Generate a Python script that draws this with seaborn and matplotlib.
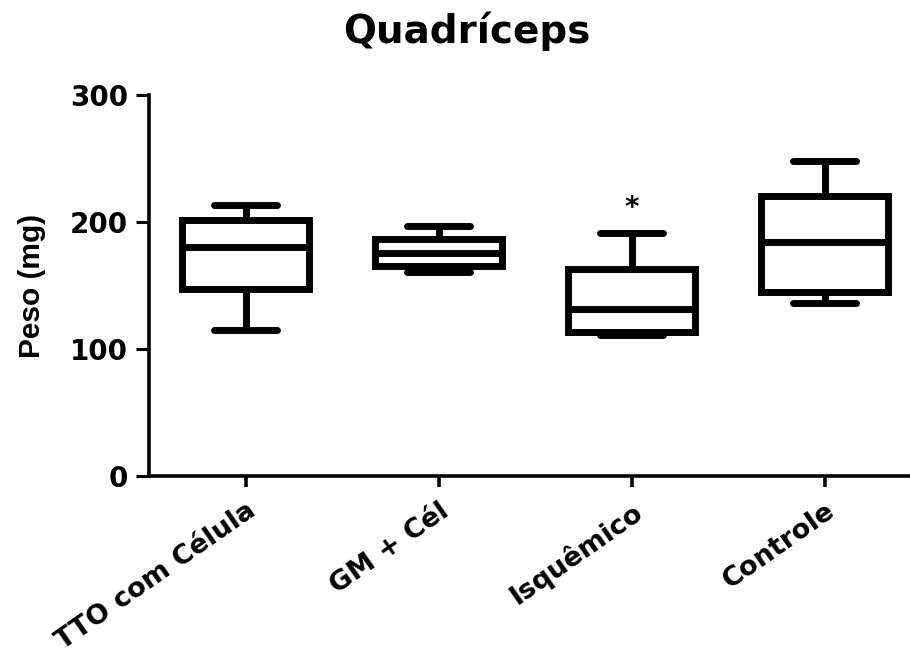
import numpy as np
import pandas as pd
import matplotlib
matplotlib.use("Agg")
import matplotlib.pyplot as plt
import seaborn as sns

# Quadriceps weight per group: min, Q1, median, Q3, max (mg)
grupos = ["TTO com Célula", "GM + Cél", "Isquêmico", "Controle"]
tto_celula = [115, 147, 180, 201, 213]
gm_cel = [160, 165, 175, 186, 197]
isquemico = [111, 113, 131, 163, 191]
controle = [136, 145, 184, 220, 248]
y_ticks = [0, 100, 200, 300]
sig_grupo, sig_valor, sig_texto = "Isquêmico", 204.5, "*"

sns.set_theme(style="ticks")
plt.rcParams["font.family"] = ["DejaVu Sans"]
plt.rcParams["font.weight"] = "bold"

df = pd.DataFrame({
    "grupo": np.repeat(grupos, 5),
    "peso": tto_celula + gm_cel + isquemico + controle,
})

fig = plt.figure(figsize=(9.1, 6.64), dpi=100)
ax = fig.add_axes([149 / 910, 1 - 475.7 / 664, 772 / 910, 381 / 664])

sns.boxplot(
    data=df, x="grupo", y="peso", order=grupos,
    whis=(0, 100), width=0.66, linewidth=5,
    color="white", linecolor="black", showfliers=False, ax=ax,
)

ax.set_xlim(-0.5, 3.5)
ax.set_ylim(0, 300)
ax.set_yticks(y_ticks)
ax.set_xlabel("")
ax.set_ylabel("")
for side in ("top", "right"):
    ax.spines[side].set_visible(False)
for side in ("left", "bottom"):
    ax.spines[side].set_linewidth(2.6)
    ax.spines[side].set_color("black")

ax.tick_params(axis="y", length=9.4, width=2.2, pad=5.8, labelsize=20, colors="black")
ax.tick_params(axis="x", length=8, width=2.6, pad=8, labelsize=19.5, colors="black")

for lab in ax.get_xticklabels():
    lab.set_rotation(35)
    lab.set_ha("right")
    lab.set_va("top")
    lab.set_rotation_mode("anchor")
for lab in ax.get_yticklabels() + ax.get_xticklabels():
    lab.set_fontweight("bold")

ax.text(grupos.index(sig_grupo), sig_valor, sig_texto, ha="center", va="baseline",
        fontsize=20, fontweight="bold", color="black")

fig.text(467 / 910, 1 - 43.3 / 664, "Quadríceps", ha="center", va="baseline",
         fontsize=28, fontweight="bold", color="black")
fig.text(32 / 910, 1 - 285.5 / 664, "Peso (mg)", rotation=90, ha="center", va="center",
         fontsize=21.5, fontweight="bold", color="black", family="Liberation Sans")

fig.savefig("out.png", dpi=100, facecolor="white")
